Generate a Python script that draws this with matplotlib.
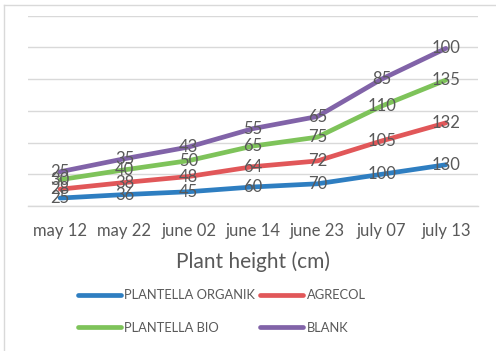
import matplotlib
matplotlib.use("Agg")
import matplotlib.pyplot as plt
from matplotlib.lines import Line2D
import numpy as np

plt.rcParams['font.family'] = ['Lato', 'DejaVu Sans']

categories = ["may 12", "may 22", "june 02", "june 14", "june 23", "july 07", "july 13"]
series_names = ["PLANTELLA ORGANIK", "AGRECOL", "PLANTELLA BIO", "BLANK"]
organik = [25, 36, 45, 60, 70, 100, 130]
agrecol = [28, 38, 48, 64, 72, 105, 132]
bio = [30, 40, 50, 65, 75, 110, 135]
blank = [25, 35, 43, 55, 65, 85, 100]
colors = ["#2E7EC1", "#E15759", "#7EC35A", "#8163A8"]
y_max = 600
y_step = 100

W, H = 496, 351
fig = plt.figure(figsize=(W / 100, H / 100), dpi=100)
fig.patch.set_facecolor("white")
ax = fig.add_axes([28 / W, (H - 206) / H, 450 / W, (206 - 15.7) / H])

x = np.arange(len(categories))
data = [organik, agrecol, bio, blank]
cum = np.zeros(len(categories))
lines = []
text_color = "#595959"
for vals, name, c in zip(data, series_names, colors):
    cum = cum + np.array(vals)
    ln, = ax.plot(x, cum, color=c, lw=3.4, solid_joinstyle="round",
                  solid_capstyle="round", label=name, zorder=3)
    lines.append(ln)
    for xi, yi, v in zip(x, cum, vals):
        ax.text(xi, yi, str(v), ha="center", va="center", fontsize=12,
                color=text_color, zorder=5)

ax.set_xlim(-0.5, len(categories) - 0.5)
ax.set_ylim(0, y_max)
ax.set_yticks(np.arange(0, y_max + 1, y_step))
ax.yaxis.grid(True, color="#D9D9D9", lw=1.0)
ax.set_axisbelow(True)
ax.tick_params(axis="y", left=False, labelleft=False)
ax.tick_params(axis="x", bottom=False, pad=8.5, labelsize=12, labelcolor=text_color)
ax.set_xticks(x)
ax.set_xticklabels(categories)
for s in ["top", "right", "left"]:
    ax.spines[s].set_visible(False)
ax.spines["bottom"].set_color("#D9D9D9")
ax.spines["bottom"].set_linewidth(1.0)

fig.text(253 / W, 1 - 262 / H, "Plant height (cm)", ha="center", va="center",
         fontsize=15, color=text_color)

handles = [lines[0], lines[2], lines[1], lines[3]]
labels = [series_names[0], series_names[2], series_names[1], series_names[3]]
leg = fig.legend(handles, labels, ncol=2, loc="center left",
                 bbox_to_anchor=(78 / W, 1 - 311.5 / H), frameon=False,
                 fontsize=9.3, handlelength=3.3, handletextpad=0.28,
                 columnspacing=0.4, labelspacing=1.55, labelcolor=text_color,
                 borderaxespad=0, borderpad=0)

border = "#D9D9D9"
fig.add_artist(Line2D([4 / W, 4 / W], [0, 1 - 5 / H], color=border, lw=1.0))
fig.add_artist(Line2D([4 / W, 1], [1 - 5 / H, 1 - 5 / H], color=border, lw=1.0))

fig.savefig("out.png", dpi=100)
